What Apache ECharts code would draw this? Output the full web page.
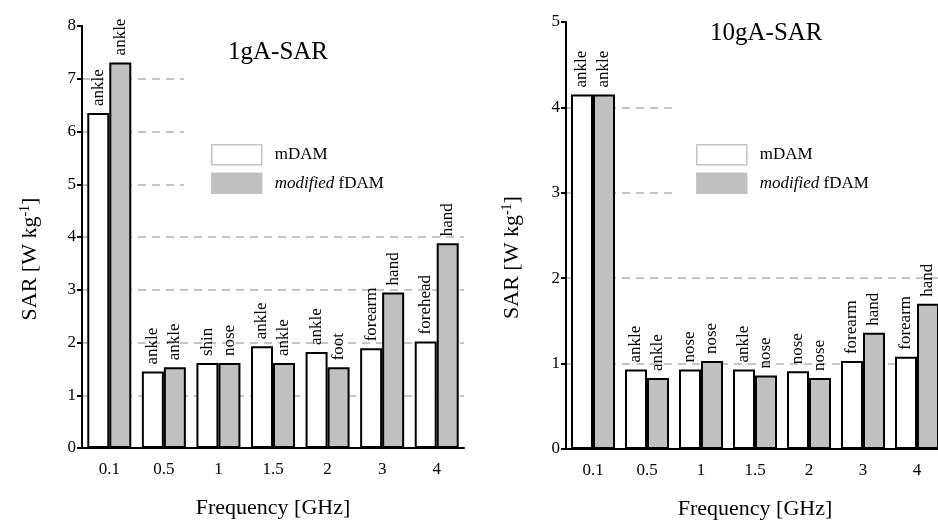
<!DOCTYPE html>
<html>
<head>
<meta charset="utf-8">
<script src="https://cdn.jsdelivr.net/npm/echarts@6/dist/echarts.min.js"></script>
<style>html,body{margin:0;padding:0;background:#fff}#c{width:938px;height:520px}</style>
</head>
<body>
<div id="c"></div>
<script>
const categories = ['0.1', '0.5', '1', '1.5', '2', '3', '4'];
const sar1g_mDAM = [6.35, 1.45, 1.61, 1.93, 1.82, 1.89, 2.02];
const sar1g_fDAM = [7.31, 1.53, 1.61, 1.61, 1.53, 2.95, 3.88];
const tissue1g_mDAM = ['ankle', 'ankle', 'shin', 'ankle', 'ankle', 'forearm', 'forehead'];
const tissue1g_fDAM = ['ankle', 'ankle', 'nose', 'ankle', 'foot', 'hand', 'hand'];
const sar10g_mDAM = [4.15, 0.93, 0.93, 0.93, 0.91, 1.03, 1.08];
const sar10g_fDAM = [4.15, 0.83, 1.03, 0.86, 0.83, 1.36, 1.70];
const tissue10g_mDAM = ['ankle', 'ankle', 'nose', 'ankle', 'nose', 'forearm', 'forearm'];
const tissue10g_fDAM = ['ankle', 'ankle', 'nose', 'nose', 'nose', 'hand', 'hand'];
const seriesNames = ['mDAM', 'modified fDAM'];
const titles = ['1gA-SAR', '10gA-SAR'];

const FONT = 'Liberation Serif';
const chart = echarts.init(document.getElementById('c'));

function xAx(gi) {
  return {
    type: 'category', gridIndex: gi, data: categories, boundaryGap: true,
    name: 'Frequency [GHz]', nameLocation: 'middle', nameGap: 49,
    nameTextStyle: {fontFamily: FONT, fontSize: 22, color: '#000'},
    axisLine: {lineStyle: {color: '#000', width: 2}},
    axisTick: {alignWithLabel: true, length: 7, lineStyle: {color: '#000', width: 2}},
    axisLabel: {fontFamily: FONT, fontSize: 17, color: '#000', margin: 13}
  };
}
function yAx(gi, max, gap) {
  return {
    type: 'value', gridIndex: gi, min: 0, max: max, interval: 1,
    name: 'SAR [W kg{sup|-1}]', nameLocation: 'middle', nameGap: gap,
    nameTextStyle: {fontFamily: FONT, fontSize: 22, color: '#000', padding: [0, 44, 0, 0],
      rich: {sup: {fontFamily: FONT, fontSize: 14, color: '#000', verticalAlign: 'top', padding: [0, 0, 10, 0]}}},
    axisLine: {show: true, lineStyle: {color: '#000', width: 2}},
    axisTick: {show: true, length: 5, lineStyle: {color: '#000', width: 2}},
    axisLabel: {fontFamily: FONT, fontSize: 17, color: '#000', margin: 6},
    splitLine: {show: true, showMaxLine: false, lineStyle: {color: '#b4b4b4', width: 1.5, type: [8, 6]}}
  };
}
function barSeries(name, xi, data, tissues, fill) {
  return {
    name: name, type: 'bar', xAxisIndex: xi, yAxisIndex: xi,
    data: data, barWidth: 22, barGap: '0%',
    itemStyle: {color: fill, borderColor: '#000', borderWidth: 2},
    label: {
      show: true, position: 'top', rotate: 90, align: 'left', verticalAlign: 'middle', distance: 7,
      fontFamily: FONT, fontSize: 17, color: '#000',
      formatter: p => tissues[p.dataIndex]
    },
    emphasis: {disabled: true}, animation: false
  };
}
function legend(left) {
  return {
    left: left, top: 139, orient: 'vertical', icon: 'rect', itemWidth: 50, itemHeight: 20, itemGap: 7,
    data: seriesNames,
    itemStyle: {borderColor: '#c4c4c4', borderWidth: 1.5},
    textStyle: {fontFamily: FONT, fontSize: 17, color: '#000', padding: [0, 0, 0, 8],
      rich: {i: {fontFamily: FONT, fontSize: 17, fontStyle: 'italic', color: '#000'}}},
    formatter: n => n === 'modified fDAM' ? '{i|modified} fDAM' : n,
    selectedMode: false
  };
}

chart.setOption({
  backgroundColor: '#fff',
  animation: false,
  title: [
    {text: titles[0], left: 223, top: 35, textStyle: {fontFamily: FONT, fontSize: 25, fontWeight: 'normal', color: '#000'}},
    {text: titles[1], left: 705, top: 16, textStyle: {fontFamily: FONT, fontSize: 25, fontWeight: 'normal', color: '#000'}}
  ],
  legend: [legend(206), legend(691)],
  grid: [
    {left: 82, top: 26, width: 382, height: 422, outerBoundsMode: 'none', containLabel: false},
    {left: 566, top: 22, width: 378, height: 427, outerBoundsMode: 'none', containLabel: false}
  ],
  graphic: [
    {type: 'rect', z: 1, shape: {x: 184, y: 30, width: 282, height: 185}, style: {fill: '#fff'}},
    {type: 'rect', z: 1, shape: {x: 677, y: 26, width: 262, height: 205}, style: {fill: '#fff'}}
  ],
  xAxis: [xAx(0), xAx(1)],
  yAxis: [yAx(0, 8, 40), yAx(1, 5, 42)],
  series: [
    barSeries(seriesNames[0], 0, sar1g_mDAM, tissue1g_mDAM, '#ffffff'),
    barSeries(seriesNames[1], 0, sar1g_fDAM, tissue1g_fDAM, '#c0c0c0'),
    barSeries(seriesNames[0], 1, sar10g_mDAM, tissue10g_mDAM, '#ffffff'),
    barSeries(seriesNames[1], 1, sar10g_fDAM, tissue10g_fDAM, '#c0c0c0')
  ]
});
</script>
</body>
</html>
